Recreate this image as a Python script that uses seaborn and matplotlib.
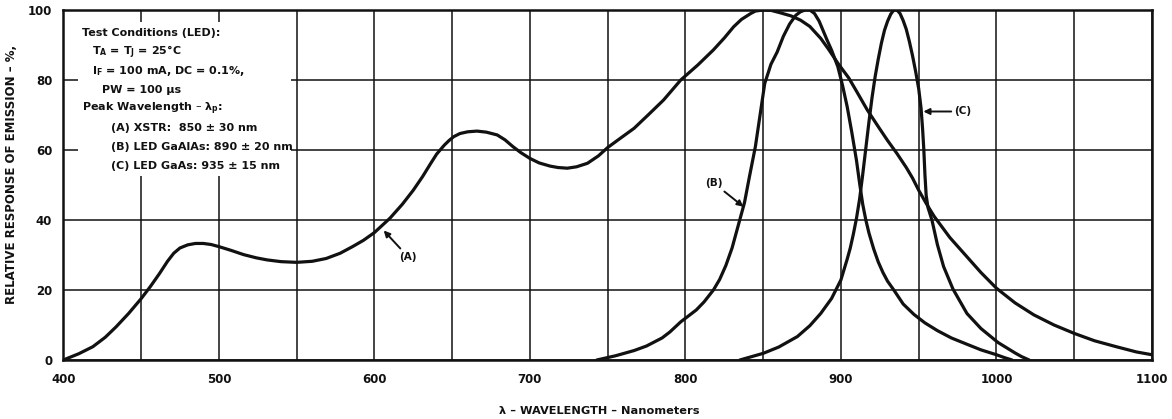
import matplotlib
matplotlib.use("Agg")
import matplotlib.pyplot as plt
from matplotlib.patches import Rectangle
import seaborn as sns
import pandas as pd

# Curve (A) XSTR
wl_a = [400, 410, 419, 427, 434, 442, 450, 456, 462, 467, 471, 475, 480, 485,
        490, 495, 500, 508, 516, 524, 531, 540, 550, 560, 569, 578, 586, 593,
        600, 610, 618, 625, 631, 636, 640, 645, 648, 651, 655, 660, 666, 672,
        679, 684, 689, 694, 700, 706, 713, 718, 724, 730, 737, 744, 750, 758,
        767, 776, 786, 797, 808, 818, 825, 831, 836, 842, 845, 850, 855, 861,
        868, 874, 880, 887, 892, 898, 905, 910, 917, 925, 930, 936, 942, 946,
        950, 955, 960, 970, 981, 990, 1000, 1012, 1024, 1037, 1050, 1063, 1077,
        1090, 1100]
resp_a = [0, 1.8, 3.8, 6.5, 9.5, 13.3, 17.5, 21, 24.8, 28.2, 30.5, 32, 32.9, 33.3,
          33.3, 33, 32.4, 31.3, 30.1, 29.2, 28.6, 28.1, 27.9, 28.2, 29, 30.5, 32.4, 34.2,
          36.4, 40.5, 44.5, 48.5, 52.4, 56, 58.8, 61.4, 62.7, 63.8, 64.7, 65.2, 65.4, 65.1,
          64.3, 62.9, 61, 59.3, 57.6, 56.3, 55.4, 55, 54.8, 55.2, 56.2, 58.3, 60.7, 63.3,
          66.2, 70, 74.3, 80, 84.3, 88.6, 92, 95.2, 97.3, 99, 99.7, 100, 99.9, 99.2,
          98.3, 97.1, 95.3, 91.9, 88.8, 84.8, 80.6, 76.8, 71.4, 66, 62.7, 59, 55, 52,
          48.5, 44.6, 41, 35, 29.5, 25, 20.5, 16.3, 12.9, 10, 7.6, 5.5, 3.8,
          2.3, 1.5]

# Curve (B) LED GaAlAs
wl_b = [743, 755, 767, 775, 785, 790, 797, 807, 812, 818, 822, 826, 830, 834,
        838, 841, 845, 848, 851, 855, 859, 863, 867, 871, 874, 877, 880, 883,
        886, 891, 894, 898, 901, 904, 907, 910, 912, 914, 916, 918, 921, 924,
        927, 930, 934, 940, 947, 954, 962, 971, 981, 990, 1000, 1005, 1010]
resp_b = [0, 1.2, 2.7, 4, 6.3, 8, 10.9, 14.3, 16.6, 20, 23, 27, 32, 38.5,
          45, 52, 61, 70, 79, 84.5, 88, 92.5, 96, 98.5, 99.5, 100, 100, 99,
          96.8, 91.5, 88.5, 83.8, 78.5, 72.4, 65, 57, 50.5, 44.5, 40, 36.3, 31.8, 28,
          25, 22.5, 20, 16, 13, 10.6, 8.4, 6.3, 4.5, 2.9, 1.5, 0.7, 0]

# Curve (C) LED GaAs
wl_c = [835, 850, 860, 872, 880, 887, 894, 900, 904, 906, 908, 910, 912, 914,
        916, 918, 920, 922, 924, 926, 928, 930, 932, 934, 936, 938, 940, 942,
        944, 946, 948, 950, 951.5, 952.5, 953.3, 954, 954.8, 956, 958.5, 962,
        966, 972, 981, 990, 1001, 1012, 1016, 1021]
resp_c = [0, 1.9, 3.7, 6.7, 9.8, 13.3, 17.6, 22.9, 28.8, 32, 36, 40.5, 46, 53,
          60.5, 68, 75, 81, 86, 90.5, 94.2, 96.8, 98.8, 100, 100, 99, 97, 94.5,
          91, 87, 82.5, 77.5, 72, 66, 60, 53, 47, 43.5, 40, 33,
          26.7, 20.3, 13.3, 9, 5, 2, 1, 0]

x_ticks = [400, 500, 600, 700, 800, 900, 1000, 1100]
x_grid = [450, 550, 650, 750, 850, 950, 1050]
y_ticks = [0, 20, 40, 60, 80, 100]

notes = [
    ("Test Conditions (LED):", 0),
    ("T$_A$ = T$_J$ = 25°C", 1),
    ("I$_F$ = 100 mA, DC = 0.1%,", 1),
    ("PW = 100 μs", 2),
    ("Peak Wavelength – λ$_p$:", 0),
    ("(A) XSTR:  850 ± 30 nm", 3),
    ("(B) LED GaAlAs: 890 ± 20 nm", 3),
    ("(C) LED GaAs: 935 ± 15 nm", 3),
]

INK = "#111111"


def main():
    sns.set_theme(style="white")
    plt.rcParams["font.family"] = ["Liberation Sans Narrow", "DejaVu Sans"]
    plt.rcParams["font.weight"] = "bold"
    plt.rcParams["mathtext.default"] = "regular"

    df = pd.concat([
        pd.DataFrame({"wl": wl_a, "resp": resp_a, "curve": "A"}),
        pd.DataFrame({"wl": wl_b, "resp": resp_b, "curve": "B"}),
        pd.DataFrame({"wl": wl_c, "resp": resp_c, "curve": "C"}),
    ])

    fig = plt.figure(figsize=(11.72, 4.19), dpi=100)
    ax = fig.add_axes([63.3 / 1172, 1 - 360 / 419, (1152 - 63.3) / 1172, 350 / 419])

    sns.lineplot(data=df, x="wl", y="resp", hue="curve", units="curve", estimator=None,
                 palette=[INK, INK, INK], linewidth=2.3, legend=False, sort=False,
                 solid_joinstyle="round", solid_capstyle="round", ax=ax, zorder=4)

    ax.set_xlim(400, 1100)
    ax.set_ylim(0, 100)
    ax.set_xticks(x_ticks)
    ax.set_xticks(x_grid, minor=True)
    ax.set_yticks(y_ticks)
    ax.set_xticklabels([str(t) for t in x_ticks], fontsize=8.5, fontweight="bold")
    ax.set_yticklabels([str(t) for t in y_ticks], fontsize=8.5, fontweight="bold")
    ax.tick_params(axis="both", which="both", length=0, colors=INK)
    ax.tick_params(axis="x", pad=9)
    ax.tick_params(axis="y", pad=8)
    ax.grid(True, which="both", color=INK, linewidth=1.1)
    for s in ax.spines.values():
        s.set_visible(True)
        s.set_color(INK)
        s.set_linewidth(1.8)

    ax.set_xlabel("λ – WAVELENGTH – Nanometers", fontsize=8.2, fontweight="bold", color=INK)
    ax.set_ylabel("RELATIVE RESPONSE OF EMISSION – %,", fontsize=8.5, fontweight="bold", color=INK)
    ax.xaxis.set_label_coords(0.492, -0.13)
    ax.yaxis.set_label_coords(-0.042, 0.53)

    # white panel behind the test conditions
    ax.add_patch(Rectangle((409.5, 52.6), 137, 44, facecolor="white",
                           edgecolor="none", zorder=2.5))
    y = 93.5
    for txt, indent in notes:
        ax.text(412 + indent * 6.3, y, txt, fontsize=8, fontweight="bold",
                color=INK, va="center", ha="left", zorder=3)
        y -= 5.45

    arrow = dict(arrowstyle="-|>", color=INK, lw=1.4, mutation_scale=9,
                 shrinkA=0, shrinkB=0)
    ax.annotate("(A)", xy=(606, 37), xytext=(616, 29.5), fontsize=7.5,
                fontweight="bold", color=INK, ha="left", va="center",
                arrowprops=arrow, zorder=5)
    ax.annotate("(B)", xy=(837.3, 43.8), xytext=(824, 50.5), fontsize=7.5,
                fontweight="bold", color=INK, ha="right", va="center",
                arrowprops=arrow, zorder=5)
    ax.annotate("(C)", xy=(953, 71), xytext=(973, 71), fontsize=7.5,
                fontweight="bold", color=INK, ha="left", va="center",
                arrowprops=arrow, zorder=5)

    fig.savefig("out.png", dpi=100)
    plt.close(fig)


if __name__ == "__main__":
    main()
